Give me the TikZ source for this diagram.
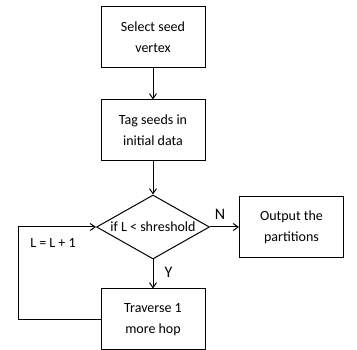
\documentclass[tikz,border=0pt]{standalone}
\usepackage{fontspec}
\setmainfont{Carlito}
\usepackage{tikz}
\usetikzlibrary{positioning}
\usetikzlibrary{shapes.geometric, arrows.meta}

\tikzset{
  stepbox/.style={draw, line width=1pt, minimum width=104pt, minimum height=61pt,
    align=center, font=\fontsize{14pt}{21pt}\selectfont},
  decide/.style={draw, diamond, line width=1pt, aspect=1.77, inner sep=1pt,
    minimum width=113pt, minimum height=64pt, font=\fontsize{14pt}{17pt}\selectfont},
  flow/.style={line width=1pt, -{Straight Barb[length=5pt,width=7pt]}},
  lbl/.style={font=\fontsize{14pt}{17pt}\selectfont},
  yn/.style={font=\fontsize{16pt}{19pt}\selectfont, inner sep=0pt}
}

\begin{document}
\begin{tikzpicture}
    \useasboundingbox (0,0) rectangle (357pt,-350pt);
    \node[stepbox](select) at (153pt,-37.5pt) {Select seed\\vertex};
    \node[stepbox](tag) [below = 31pt of select] {Tag seeds in\\initial data};
    \node[decide](cond) [below = 33pt of tag] {if L < shreshold};
    \node[stepbox](output) [right = 29pt of cond] {Output the\\partitions};
    \node[stepbox](traverse) [below = 29pt of cond] {Traverse 1\\more hop};
    \node[lbl](inc) at (53pt,-243pt) {L = L + 1};

    \draw[flow] (select) -- (tag);
    \draw[flow] (tag) -- (cond);
    \draw[flow] (cond) -- node[yn, above=7pt, pos=0.35] {N} (output);
    \draw[flow] (cond) -- node[yn, right=11pt, pos=0.45] {Y} (traverse);
    \draw[flow] (traverse.west) -- ++(-82pt,0) |- (cond.west);
\end{tikzpicture}
\end{document}
